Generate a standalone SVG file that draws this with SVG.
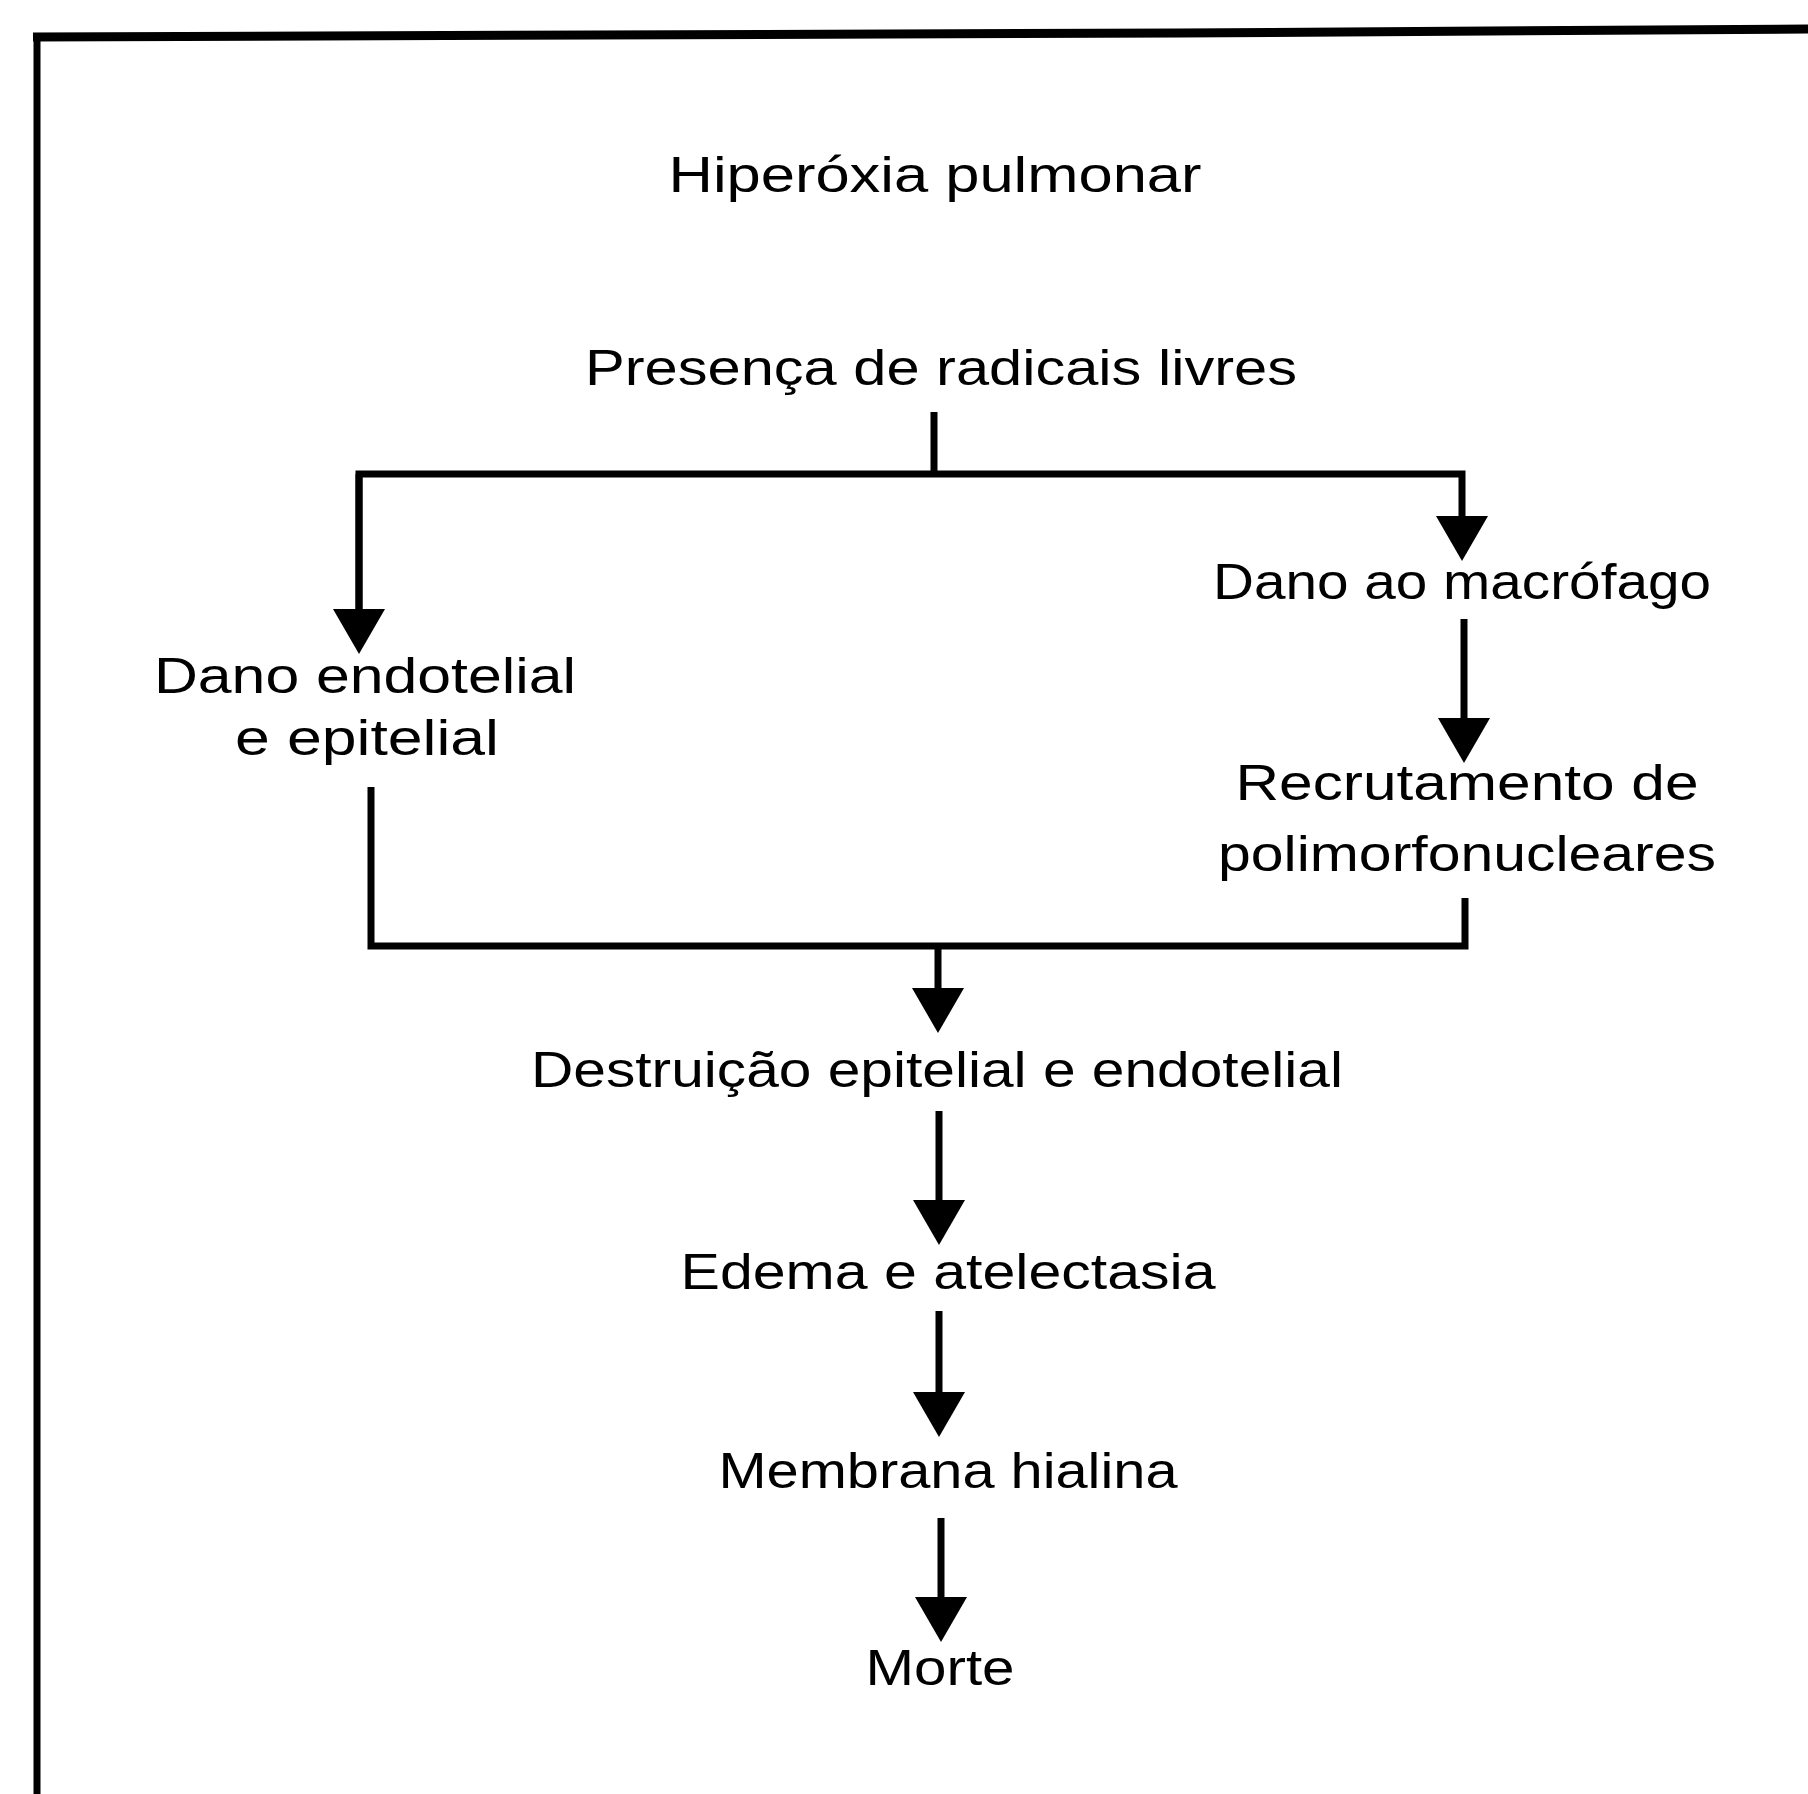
<svg xmlns="http://www.w3.org/2000/svg" width="1808" height="1794" viewBox="0 0 1808 1794">
<style>
text{font-family:"Liberation Sans",Arial,sans-serif;font-size:50px;fill:#000;text-anchor:middle}
.ln{fill:none;stroke:#000;stroke-width:7;stroke-linejoin:miter;stroke-linecap:butt}
.frame{stroke:#000;fill:none}
</style>
<defs>
<marker id="ah" viewBox="0 0 45 52" markerWidth="45" markerHeight="52" refX="0" refY="26" orient="auto" markerUnits="userSpaceOnUse">
<path d="M0 0 L45 26 L0 52 Z" fill="#000"/>
</marker>
</defs>
<rect width="1808" height="1794" fill="#fff"/>
<g id="frame">
<path class="frame" stroke-width="9" d="M33 37 L1180 33 L1808 29"/>
<path class="frame" stroke-width="7" d="M37 33 V1794"/>
</g>
<g id="n1"><text x="935" y="192" textLength="533" lengthAdjust="spacingAndGlyphs">Hiperóxia  pulmonar</text></g>
<g id="n2"><text x="941" y="385" textLength="712" lengthAdjust="spacingAndGlyphs">Presença  de  radicais  livres</text></g>
<g id="n3"><text x="365" y="693" textLength="422" lengthAdjust="spacingAndGlyphs">Dano  endotelial</text><text x="367" y="755" textLength="264" lengthAdjust="spacingAndGlyphs">e  epitelial</text></g>
<g id="n4"><text x="1462" y="599" textLength="498" lengthAdjust="spacingAndGlyphs">Dano ao macrófago</text></g>
<g id="n5"><text x="1467" y="800" textLength="463" lengthAdjust="spacingAndGlyphs">Recrutamento  de</text><text x="1467" y="871" textLength="498" lengthAdjust="spacingAndGlyphs">polimorfonucleares</text></g>
<g id="n6"><text x="937" y="1087" textLength="812" lengthAdjust="spacingAndGlyphs">Destruição epitelial e endotelial</text></g>
<g id="n7"><text x="948" y="1289" textLength="535" lengthAdjust="spacingAndGlyphs">Edema  e  atelectasia</text></g>
<g id="n8"><text x="948" y="1488" textLength="459" lengthAdjust="spacingAndGlyphs">Membrana hialina</text></g>
<g id="n9"><text x="940" y="1685" textLength="149" lengthAdjust="spacingAndGlyphs">Morte</text></g>
<g id="connectors">
<path class="ln" d="M934 412 V474"/>
<path class="ln" d="M359 609 V474 H1462 V516" marker-end="url(#ah)"/>
<path class="ln" d="M359 474 V609" marker-end="url(#ah)"/>
<path class="ln" d="M1464 619 V718" marker-end="url(#ah)"/>
<path class="ln" d="M371 787 V946 H1465 V898"/>
<path class="ln" d="M938 946 V988" marker-end="url(#ah)"/>
<path class="ln" d="M939 1111 V1200" marker-end="url(#ah)"/>
<path class="ln" d="M939 1311 V1392" marker-end="url(#ah)"/>
<path class="ln" d="M941 1518 V1597" marker-end="url(#ah)"/>
</g>
</svg>
